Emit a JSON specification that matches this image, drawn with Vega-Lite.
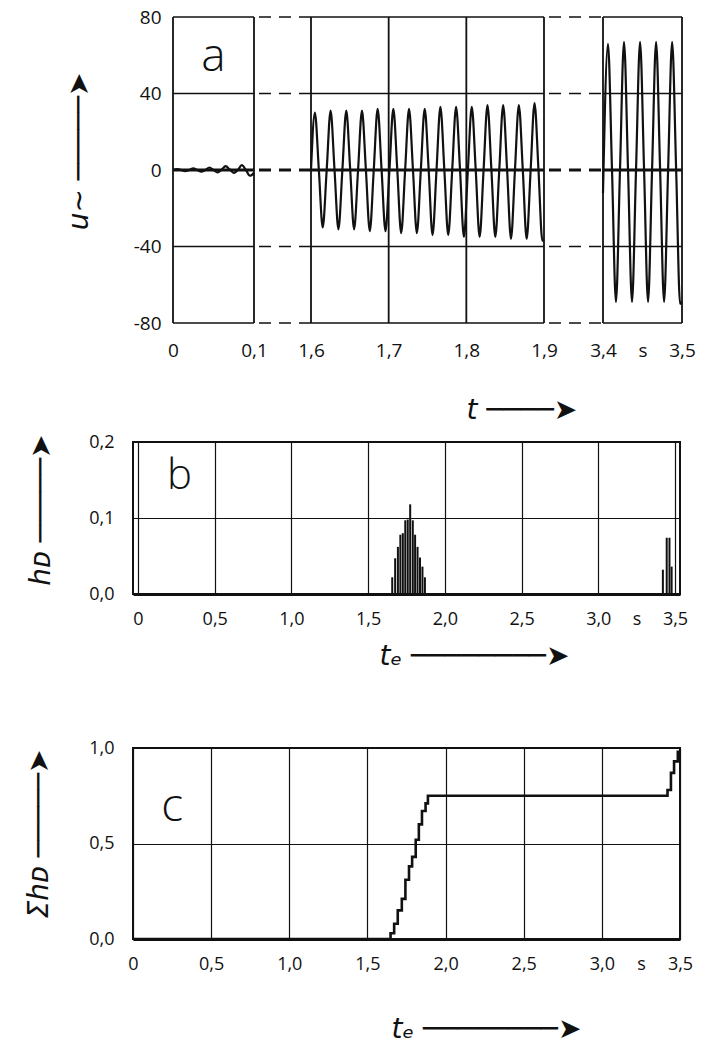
{
  "$schema": "https://vega.github.io/schema/vega-lite/v6.json",
  "padding": {"left": 12, "top": 8, "right": 10, "bottom": 5},
  "spacing": 5,
  "background": "white",
  "config": {
    "view": {"stroke": null},
    "axis": {
      "labelFont": "Open Sans", "labelColor": "#111", "labelFontSize": 18,
      "ticks": false, "tickSize": 0, "grid": false, "domain": false,
      "labelOverlap": false, "labelFlush": false,
      "titleFont": "DejaVu Sans", "titleFontStyle": "italic", "titleFontWeight": "normal",
      "titleColor": "#111", "titleFontSize": 28,
      "gridColor": "#111", "gridWidth": 1.2, "gridOpacity": 1, "domainColor": "#111"
    }
  },
  "datasets": {
    "a_h": [
      {"t": 0, "t2": 0.1, "u": 80}, {"t": 1.6, "t2": 1.9, "u": 80}, {"t": 3.4, "t2": 3.5, "u": 80},
      {"t": 0, "t2": 0.1, "u": 40}, {"t": 1.6, "t2": 1.9, "u": 40}, {"t": 3.4, "t2": 3.5, "u": 40},
      {"t": 0, "t2": 0.1, "u": 0}, {"t": 1.6, "t2": 1.9, "u": 0}, {"t": 3.4, "t2": 3.5, "u": 0},
      {"t": 0, "t2": 0.1, "u": -40}, {"t": 1.6, "t2": 1.9, "u": -40}, {"t": 3.4, "t2": 3.5, "u": -40},
      {"t": 0, "t2": 0.1, "u": -80}, {"t": 1.6, "t2": 1.9, "u": -80}, {"t": 3.4, "t2": 3.5, "u": -80}
    ],
    "a_gap": [
      {"t": 0.1, "t2": 1.6, "u": 80}, {"t": 1.9, "t2": 3.4, "u": 80},
      {"t": 0.1, "t2": 1.6, "u": 40}, {"t": 1.9, "t2": 3.4, "u": 40},
      {"t": 0.1, "t2": 1.6, "u": 0}, {"t": 1.9, "t2": 3.4, "u": 0},
      {"t": 0.1, "t2": 1.6, "u": -40}, {"t": 1.9, "t2": 3.4, "u": -40},
      {"t": 0.1, "t2": 1.6, "u": -80}, {"t": 1.9, "t2": 3.4, "u": -80}
    ],
    "a_v": [
      {"t": 0, "u": -80, "u2": 80}, {"t": 0.1, "u": -80, "u2": 80}, {"t": 1.6, "u": -80, "u2": 80},
      {"t": 1.9, "u": -80, "u2": 80}, {"t": 3.4, "u": -80, "u2": 80}, {"t": 3.5, "u": -80, "u2": 80},
      {"t": 1.7, "u": -80, "u2": 80}, {"t": 1.8, "u": -80, "u2": 80}
    ],
    "a_sig": [
      {"seg": "s1", "t": 0, "u": 0}, {"seg": "s1", "t": 0.005, "u": 0.5}, {"seg": "s1", "t": 0.01, "u": 0},
      {"seg": "s1", "t": 0.015, "u": -0.6}, {"seg": "s1", "t": 0.02, "u": 0}, {"seg": "s1", "t": 0.025, "u": 0.8},
      {"seg": "s1", "t": 0.03, "u": 0}, {"seg": "s1", "t": 0.035, "u": -0.9}, {"seg": "s1", "t": 0.04, "u": 0},
      {"seg": "s1", "t": 0.045, "u": 1.3}, {"seg": "s1", "t": 0.05, "u": 0}, {"seg": "s1", "t": 0.055, "u": -1.3},
      {"seg": "s1", "t": 0.06, "u": 0.2}, {"seg": "s1", "t": 0.065, "u": 2}, {"seg": "s1", "t": 0.07, "u": 0.3},
      {"seg": "s1", "t": 0.075, "u": -1.5}, {"seg": "s1", "t": 0.08, "u": 0}, {"seg": "s1", "t": 0.085, "u": 2.5},
      {"seg": "s1", "t": 0.09, "u": 0}, {"seg": "s1", "t": 0.095, "u": -3}, {"seg": "s1", "t": 0.1, "u": -1.5},

      {"seg": "s2", "t": 1.6, "u": 0},
      {"seg": "s2", "t": 1.605, "u": 30}, {"seg": "s2", "t": 1.6101, "u": 0}, {"seg": "s2", "t": 1.6151, "u": -30}, {"seg": "s2", "t": 1.6202, "u": 0},
      {"seg": "s2", "t": 1.6252, "u": 31}, {"seg": "s2", "t": 1.6303, "u": 0}, {"seg": "s2", "t": 1.6353, "u": -31}, {"seg": "s2", "t": 1.6404, "u": 0},
      {"seg": "s2", "t": 1.6454, "u": 31}, {"seg": "s2", "t": 1.6505, "u": 0}, {"seg": "s2", "t": 1.6555, "u": -31}, {"seg": "s2", "t": 1.6606, "u": 0},
      {"seg": "s2", "t": 1.6656, "u": 31}, {"seg": "s2", "t": 1.6707, "u": 0}, {"seg": "s2", "t": 1.6757, "u": -32}, {"seg": "s2", "t": 1.6808, "u": 0},
      {"seg": "s2", "t": 1.6858, "u": 32}, {"seg": "s2", "t": 1.6909, "u": 0}, {"seg": "s2", "t": 1.6959, "u": -32}, {"seg": "s2", "t": 1.701, "u": 0},
      {"seg": "s2", "t": 1.706, "u": 32}, {"seg": "s2", "t": 1.7111, "u": 0}, {"seg": "s2", "t": 1.7161, "u": -33}, {"seg": "s2", "t": 1.7212, "u": 0},
      {"seg": "s2", "t": 1.7262, "u": 32}, {"seg": "s2", "t": 1.7313, "u": 0}, {"seg": "s2", "t": 1.7363, "u": -33}, {"seg": "s2", "t": 1.7414, "u": 0},
      {"seg": "s2", "t": 1.7464, "u": 32}, {"seg": "s2", "t": 1.7515, "u": 0}, {"seg": "s2", "t": 1.7565, "u": -34}, {"seg": "s2", "t": 1.7616, "u": 0},
      {"seg": "s2", "t": 1.7666, "u": 33}, {"seg": "s2", "t": 1.7717, "u": 0}, {"seg": "s2", "t": 1.7767, "u": -34}, {"seg": "s2", "t": 1.7818, "u": 0},
      {"seg": "s2", "t": 1.7868, "u": 33}, {"seg": "s2", "t": 1.7919, "u": 0}, {"seg": "s2", "t": 1.7969, "u": -35}, {"seg": "s2", "t": 1.802, "u": 0},
      {"seg": "s2", "t": 1.807, "u": 33}, {"seg": "s2", "t": 1.8121, "u": 0}, {"seg": "s2", "t": 1.8171, "u": -35}, {"seg": "s2", "t": 1.8222, "u": 0},
      {"seg": "s2", "t": 1.8272, "u": 34}, {"seg": "s2", "t": 1.8323, "u": 0}, {"seg": "s2", "t": 1.8373, "u": -35}, {"seg": "s2", "t": 1.8424, "u": 0},
      {"seg": "s2", "t": 1.8474, "u": 34}, {"seg": "s2", "t": 1.8525, "u": 0}, {"seg": "s2", "t": 1.8575, "u": -36}, {"seg": "s2", "t": 1.8626, "u": 0},
      {"seg": "s2", "t": 1.8676, "u": 34}, {"seg": "s2", "t": 1.8727, "u": 0}, {"seg": "s2", "t": 1.8777, "u": -36}, {"seg": "s2", "t": 1.8828, "u": 0},
      {"seg": "s2", "t": 1.8878, "u": 35}, {"seg": "s2", "t": 1.8929, "u": 0}, {"seg": "s2", "t": 1.8979, "u": -37}, {"seg": "s2", "t": 1.9, "u": -36.5},

      {"seg": "s3", "t": 3.4, "u": -12},
      {"seg": "s3", "t": 3.4063, "u": 66}, {"seg": "s3", "t": 3.4114, "u": 0}, {"seg": "s3", "t": 3.4164, "u": -69}, {"seg": "s3", "t": 3.4215, "u": 0},
      {"seg": "s3", "t": 3.4266, "u": 67}, {"seg": "s3", "t": 3.4317, "u": 0}, {"seg": "s3", "t": 3.4367, "u": -69}, {"seg": "s3", "t": 3.4418, "u": 0},
      {"seg": "s3", "t": 3.4469, "u": 67}, {"seg": "s3", "t": 3.452, "u": 0}, {"seg": "s3", "t": 3.457, "u": -69}, {"seg": "s3", "t": 3.4621, "u": 0},
      {"seg": "s3", "t": 3.4672, "u": 67}, {"seg": "s3", "t": 3.4723, "u": 0}, {"seg": "s3", "t": 3.4773, "u": -69}, {"seg": "s3", "t": 3.4824, "u": 0},
      {"seg": "s3", "t": 3.4875, "u": 67}, {"seg": "s3", "t": 3.4926, "u": 0}, {"seg": "s3", "t": 3.4976, "u": -70}, {"seg": "s3", "t": 3.5, "u": -69}
    ],
    "b_bars": [
      {"t": 1.657, "h": 0.022}, {"t": 1.676, "h": 0.047}, {"t": 1.694, "h": 0.062}, {"t": 1.71, "h": 0.078},
      {"t": 1.726, "h": 0.08}, {"t": 1.742, "h": 0.097}, {"t": 1.758, "h": 0.098}, {"t": 1.774, "h": 0.118},
      {"t": 1.791, "h": 0.097}, {"t": 1.806, "h": 0.078}, {"t": 1.822, "h": 0.062}, {"t": 1.838, "h": 0.048},
      {"t": 1.854, "h": 0.036}, {"t": 1.87, "h": 0.022},
      {"t": 3.421, "h": 0.032}, {"t": 3.446, "h": 0.074}, {"t": 3.464, "h": 0.074}, {"t": 3.478, "h": 0.036}
    ],
    "c_sum": [
      {"t": 0, "s": 0}, {"t": 1.648, "s": 0.03}, {"t": 1.671, "s": 0.08}, {"t": 1.694, "s": 0.15},
      {"t": 1.72, "s": 0.21}, {"t": 1.743, "s": 0.31}, {"t": 1.766, "s": 0.38}, {"t": 1.786, "s": 0.43},
      {"t": 1.809, "s": 0.52}, {"t": 1.829, "s": 0.6}, {"t": 1.849, "s": 0.67}, {"t": 1.872, "s": 0.71},
      {"t": 1.887, "s": 0.75}, {"t": 3.42, "s": 0.78}, {"t": 3.442, "s": 0.87}, {"t": 3.462, "s": 0.93},
      {"t": 3.486, "s": 0.98}, {"t": 3.5, "s": 0.98}
    ]
  },
  "vconcat": [
    {
      "width": 549,
      "height": 306,
      "encoding": {
        "x": {
          "field": "t", "type": "quantitative",
          "scale": {"domain": [0, 0.1, 1.6, 1.9, 3.4, 3.5], "range": [40, 121, 178, 411, 470, 549], "nice": false, "zero": false},
          "axis": {
            "values": [0, 0.1, 1.6, 1.7, 1.8, 1.9, 3.4, 3.45, 3.5],
            "labelExpr": "datum.value == 3.45 ? 's' : (datum.value == 0 ? '0' : replace(format(datum.value, '.1f'), '.', ','))",
            "labelFontSize": 19, "labelPadding": 18,
            "title": "t ────➤", "titleX": 333, "titleY": 87, "titleAlign": "left", "titleBaseline": "middle", "titleAngle": 0,
            "minExtent": 104, "maxExtent": 104
          }
        },
        "y": {
          "field": "u", "type": "quantitative",
          "scale": {"domain": [-80, 80], "nice": false, "zero": false},
          "axis": {
            "values": [-80, -40, 0, 40, 80],
            "labelExpr": "'' + datum.value",
            "labelFontSize": 19, "labelPadding": -28,
            "title": "u∼  ─────➤", "titleX": -54, "titleY": 55, "titleAlign": "right", "titleBaseline": "middle", "titleAngle": -90,
            "minExtent": 120, "maxExtent": 120
          }
        }
      },
      "layer": [
        {
          "data": {"name": "a_h"},
          "transform": [{"filter": "datum.u != 0"}],
          "mark": {"type": "rule", "color": "#111", "strokeWidth": 1.4},
          "encoding": {"x2": {"field": "t2"}}
        },
        {
          "data": {"name": "a_h"},
          "transform": [{"filter": "datum.u == 0"}],
          "mark": {"type": "rule", "color": "#111", "strokeWidth": 3},
          "encoding": {"x2": {"field": "t2"}}
        },
        {
          "data": {"name": "a_gap"},
          "transform": [{"filter": "datum.u != 0"}],
          "mark": {"type": "rule", "color": "#111", "strokeWidth": 1.3, "strokeDash": [12, 8], "strokeDashOffset": -5},
          "encoding": {"x2": {"field": "t2"}}
        },
        {
          "data": {"name": "a_gap"},
          "transform": [{"filter": "datum.u == 0"}],
          "mark": {"type": "rule", "color": "#111", "strokeWidth": 3, "strokeDash": [12, 8], "strokeDashOffset": -5},
          "encoding": {"x2": {"field": "t2"}}
        },
        {
          "data": {"name": "a_v"},
          "mark": {"type": "rule", "color": "#111", "strokeWidth": 1.8},
          "encoding": {"y2": {"field": "u2"}}
        },
        {
          "data": {"name": "a_sig"},
          "mark": {"type": "line", "color": "#111", "strokeWidth": 2.2, "interpolate": "monotone"},
          "encoding": {"detail": {"field": "seg"}}
        },
        {
          "data": {"values": [{"t": 0.05, "u": 59, "label": "a"}]},
          "mark": {"type": "text", "font": "Open Sans", "fontWeight": 300, "fontSize": 46, "color": "#111", "baseline": "middle", "align": "center"},
          "encoding": {"text": {"field": "label"}}
        }
      ]
    },
    {
      "width": 547,
      "height": 152,
      "view": {"stroke": "#111", "strokeWidth": 2},
      "encoding": {
        "x": {
          "field": "t", "type": "quantitative",
          "scale": {"domain": [0, 3.5], "nice": false, "zero": false},
          "axis": {
            "values": [0, 0.5, 1, 1.5, 2, 2.5, 3, 3.25, 3.5],
            "labelExpr": "datum.value == 3.25 ? 's' : (datum.value == 0 ? '0' : replace(format(datum.value, '.1f'), '.', ','))",
            "labelPadding": 16,
            "grid": true,
            "gridOpacity": {"condition": {"test": "datum.value == 3.25", "value": 0}, "value": 1},
            "domain": true, "domainWidth": 3,
            "title": "tₑ ────────➤", "titleX": 246, "titleY": 62, "titleAlign": "left", "titleBaseline": "middle", "titleAngle": 0,
            "minExtent": 138, "maxExtent": 138
          }
        }
      },
      "layer": [
        {
          "data": {"name": "b_bars"},
          "mark": {"type": "bar", "size": 2, "color": "#111", "orient": "vertical"},
          "encoding": {
            "y": {
              "field": "h", "type": "quantitative",
              "scale": {"domain": [0, 0.2], "nice": false},
              "axis": {
                "values": [0, 0.1, 0.2],
                "labelExpr": "replace(format(datum.value, '.1f'), '.', ',')",
                "labelPadding": 19, "grid": true,
                "title": "hᴅ ─────➤", "titleX": -92, "titleY": -8, "titleAlign": "right", "titleBaseline": "middle", "titleAngle": -90,
                "minExtent": 120, "maxExtent": 120
              }
            }
          }
        },
        {
          "data": {"values": [{"t": 0.27, "h": 0.155, "label": "b"}]},
          "mark": {"type": "text", "font": "Open Sans", "fontWeight": 300, "fontSize": 42, "color": "#111", "baseline": "middle", "align": "center"},
          "encoding": {"y": {"field": "h", "type": "quantitative"}, "text": {"field": "label"}}
        }
      ]
    },
    {
      "width": 547,
      "height": 191,
      "view": {"stroke": "#111", "strokeWidth": 2},
      "encoding": {
        "x": {
          "field": "t", "type": "quantitative",
          "scale": {"domain": [0, 3.5], "nice": false, "zero": false},
          "axis": {
            "values": [0, 0.5, 1, 1.5, 2, 2.5, 3, 3.25, 3.5],
            "labelExpr": "datum.value == 3.25 ? 's' : (datum.value == 0 ? '0' : replace(format(datum.value, '.1f'), '.', ','))",
            "labelPadding": 16,
            "grid": true,
            "gridOpacity": {"condition": {"test": "datum.value == 3.25", "value": 0}, "value": 1},
            "domain": true, "domainWidth": 3,
            "title": "tₑ ────────➤", "titleX": 258, "titleY": 90, "titleAlign": "left", "titleBaseline": "middle", "titleAngle": 0
          }
        }
      },
      "layer": [
        {
          "data": {"name": "c_sum"},
          "mark": {"type": "line", "color": "#111", "strokeWidth": 2.6, "interpolate": "step-after"},
          "encoding": {
            "y": {
              "field": "s", "type": "quantitative",
              "scale": {"domain": [0, 1], "nice": false},
              "axis": {
                "values": [0, 0.5, 1],
                "labelExpr": "replace(format(datum.value, '.1f'), '.', ',')",
                "labelPadding": 19, "grid": true,
                "title": "Σhᴅ ─────➤", "titleX": -94, "titleY": 1, "titleAlign": "right", "titleBaseline": "middle", "titleAngle": -90,
                "minExtent": 120, "maxExtent": 120
              }
            }
          }
        },
        {
          "data": {"values": [{"t": 0.25, "s": 0.69, "label": "c"}]},
          "mark": {"type": "text", "font": "Open Sans", "fontWeight": 300, "fontSize": 46, "color": "#111", "baseline": "middle", "align": "center"},
          "encoding": {"y": {"field": "s", "type": "quantitative"}, "text": {"field": "label"}}
        }
      ]
    }
  ]
}
